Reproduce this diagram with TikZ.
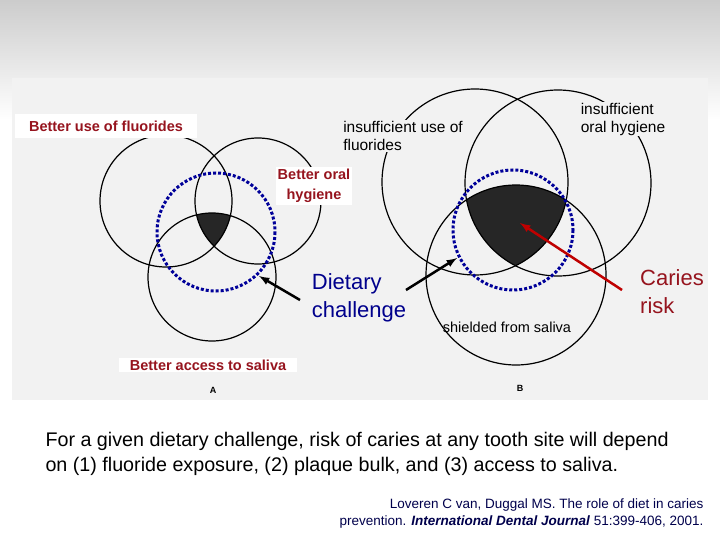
\documentclass[tikz,border=0pt]{standalone}
\usepackage{fontspec}
\setmainfont{Liberation Sans}
\definecolor{lblred}{RGB}{150,20,30}
\begin{document}
\begin{tikzpicture}[x=1pt,y=-1pt,
  circ/.style={draw=black,line width=1.2pt},
  dashcirc/.style={draw=blue!60!black,line width=3pt,dash pattern=on 3pt off 2pt},
  lbl/.style={fill=white,inner sep=2pt,text=lblred,font=\fontsize{14.5}{20}\bfseries\selectfont,align=center},
  scan/.style={font=\fontsize{15.5}{18}\selectfont,align=left},
  arr/.style={-latex,line width=2.5pt}]
\useasboundingbox (0,0) rectangle (720,540);
\shade[top color=gray!40,bottom color=white] (0,0) rectangle (720,120);
\fill[white] (0,120) rectangle (720,540);
\fill[gray!10] (12,78) rectangle (708,400);
% A
\begin{scope}
\clip (166,201) circle (66);
\clip (258,201) circle (63);
\fill[black!85] (212,277) circle (64);
\end{scope}
\draw[circ] (166,201) circle (66);
\draw[circ] (258,201) circle (63);
\draw[circ] (212,277) circle (64);
\draw[dashcirc] (216,232) circle (59);
% B
\begin{scope}
\clip (475,182) circle (93);
\clip (558,183) circle (93);
\fill[black!85] (516,275) circle (90);
\end{scope}
\draw[circ] (475,182) circle (93);
\draw[circ] (558,183) circle (93);
\draw[circ] (516,275) circle (90);
\draw[dashcirc] (513,230) circle (60);
% labels
\node[lbl,minimum width=182,minimum height=24] (f) at (106,126) {Better use of fluorides};
\node[scan,fill=gray!10,inner sep=1pt] (iuf) at (403,136) {insufficient use of\\fluorides};
\node[scan,fill=gray!10,inner sep=1pt] (ioh) at (623,119) {insufficient\\oral hygiene};
\node[lbl] (boh) at (314,186) {Better oral\\hygiene};
\node[font=\fontsize{22}{28}\selectfont,text=blue!55!black,align=left,fill=gray!10,inner sep=1pt] (dc) at (359,298) {Dietary\\challenge};
\node[font=\fontsize{22}{28}\selectfont,text=lblred,align=left,fill=gray!10,inner sep=1pt] (cr) at (672,292) {Caries\\risk};
\node[font=\fontsize{14.5}{17}\selectfont,inner sep=1pt] (sh) at (507,327) {shielded from saliva};
\node[lbl,minimum width=178] (bas) at (208,365) {Better access to saliva};
\node[font=\fontsize{9}{10}\bfseries\selectfont] (a) at (213,390) {A};
\node[font=\fontsize{9}{10}\bfseries\selectfont] (b) at (520,388) {B};
\node[font=\fontsize{19.7}{25}\selectfont,align=left,anchor=west] (main) at (42,454) {For a given dietary challenge, risk of caries at any tooth site will depend\\on (1) fluoride exposure, (2) plaque bulk, and (3) access to saliva.};
\node[font=\fontsize{13.5}{17}\selectfont,align=right,anchor=east,text=blue!30!black] (cite) at (707,514) {Loveren C van, Duggal MS. The role of diet in caries\\prevention. \textbf{\textit{International Dental Journal}} 51:399-406, 2001.};
% arrows
\coordinate (d1) at (259,276);
\coordinate (d2) at (457,258);
\coordinate (c1) at (520,223);
\coordinate (s1) at (300,300);
\coordinate (s2) at (406,290);
\coordinate (s3) at (622,290);
\draw[arr] (s1) -- (d1);
\draw[arr] (s2) -- (d2);
\draw[arr,red!75!black] (s3) -- (c1);
\end{tikzpicture}
\end{document}
